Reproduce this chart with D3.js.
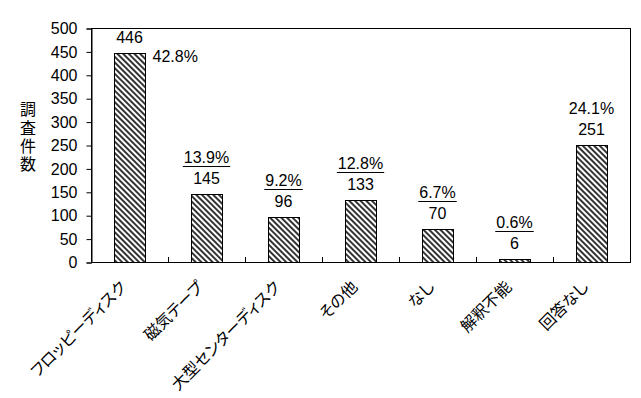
<!DOCTYPE html>
<html>
<head>
<meta charset="utf-8">
<script src="https://cdn.jsdelivr.net/npm/d3@7"></script>
<style>
	body { margin: 0; background: #fff; }
	text { font-family: "Liberation Sans", Arial, sans-serif; fill: #000; }
	.jp { font-family: "Noto Sans CJK JP", sans-serif; font-feature-settings: "palt"; }
</style>
</head>
<body>
<div id="chart"></div>
<script>
const categories = ["フロッピーディスク", "磁気テープ", "大型センターディスク", "その他", "なし", "解釈不能", "回答なし"];
const counts = [446, 145, 96, 133, 70, 6, 251];
const percents = ["42.8%", "13.9%", "9.2%", "12.8%", "6.7%", "0.6%", "24.1%"];
const yTicks = [0, 50, 100, 150, 200, 250, 300, 350, 400, 450, 500];
const yTitle = "調査件数";

const width = 641;
const height = 398;
const margin = { top: 28, right: 11, bottom: 136, left: 91 };

const svg = d3
	.select("#chart")
	.append("svg")
	.attr("width", width)
	.attr("height", height);

// hatch fill
const pattern = svg
	.append("defs")
	.append("pattern")
	.attr("id", "hatch")
	.attr("patternUnits", "userSpaceOnUse")
	.attr("width", 4)
	.attr("height", 4)
	.attr("patternTransform", "rotate(-45)");
pattern.append("rect").attr("width", 4).attr("height", 4).attr("fill", "white");
pattern
	.append("line")
	.attr("x1", 1)
	.attr("y1", 0)
	.attr("x2", 1)
	.attr("y2", 4)
	.attr("stroke", "black")
	.attr("stroke-width", 1.6);

const xScale = d3
	.scaleBand()
	.domain(categories)
	.range([margin.left, width - margin.right])
	.padding(0);

const yScale = d3
	.scaleLinear()
	.domain([0, 500])
	.range([height - margin.bottom, margin.top]);

const bw = xScale.bandwidth();

// frame
svg
	.append("rect")
	.attr("x", margin.left + 0.5)
	.attr("y", margin.top + 0.5)
	.attr("width", width - margin.right - margin.left)
	.attr("height", height - margin.bottom - margin.top)
	.attr("fill", "none")
	.attr("stroke", "black");

// y axis
const yAxis = svg
	.append("g")
	.attr("transform", `translate(${margin.left + 0.5}, 0.5)`)
	.call(d3.axisLeft(yScale).tickValues(yTicks).tickSize(5).tickPadding(9));
yAxis.select(".domain").attr("stroke", "black");
yAxis.selectAll("text").attr("font-size", 16).attr("font-family", null);

// x axis ticks between categories, pointing inward
svg
	.append("g")
	.selectAll("line")
	.data(categories.slice(1))
	.enter()
	.append("line")
	.attr("x1", (d) => Math.round(xScale(d)) + 0.5)
	.attr("x2", (d) => Math.round(xScale(d)) + 0.5)
	.attr("y1", height - margin.bottom)
	.attr("y2", height - margin.bottom - 5)
	.attr("stroke", "black");

// bars
svg
	.selectAll(".bar")
	.data(counts)
	.enter()
	.append("rect")
	.attr("class", "bar")
	.attr("x", (d, i) => Math.round(xScale(categories[i]) + bw * 0.3) + 0.5)
	.attr("y", (d) => Math.round(yScale(d)) + 0.5)
	.attr("width", Math.round(bw * 0.4))
	.attr("height", (d) => Math.round(yScale(0)) - Math.round(yScale(d)))
	.attr("fill", "url(#hatch)")
	.attr("stroke", "black");

// count labels
svg
	.selectAll(".count")
	.data(counts)
	.enter()
	.append("text")
	.attr("class", "count")
	.attr("x", (d, i) => xScale(categories[i]) + bw / 2)
	.attr("y", (d) => yScale(d) - 10)
	.attr("text-anchor", "middle")
	.attr("font-size", 16)
	.text((d) => d);

// percent labels
percents.forEach(function (p, i) {
	const cx = xScale(categories[i]) + bw / 2;
	if (i === 0) {
		svg
			.append("text")
			.attr("x", cx + 23)
			.attr("y", yScale(counts[i]) + 9)
			.attr("font-size", 16)
			.text(p);
		return;
	}
	const t = svg
		.append("text")
		.attr("x", cx)
		.attr("y", yScale(counts[i]) - 31)
		.attr("text-anchor", "middle")
		.attr("font-size", 16)
		.text(p);
	if (i === percents.length - 1) return;
	const w = t.node().getComputedTextLength();
	svg
		.append("line")
		.attr("x1", cx - w / 2 - 1)
		.attr("x2", cx + w / 2 + 1)
		.attr("y1", Math.round(yScale(counts[i]) - 28) + 0.5)
		.attr("y2", Math.round(yScale(counts[i]) - 28) + 0.5)
		.attr("stroke", "black");
});

// category labels
svg
	.selectAll(".cat")
	.data(categories)
	.enter()
	.append("text")
	.attr("class", "cat jp")
	.attr("transform", (d) => `translate(${xScale(d) + bw / 2 - 2}, 288) rotate(-45)`)
	.attr("text-anchor", "end")
	.attr("font-size", 16)
	.text((d) => d);

// y title, vertical
svg
	.append("text")
	.attr("class", "jp")
	.attr("x", 28)
	.attr("y", 138)
	.attr("writing-mode", "vertical-rl")
	.attr("text-anchor", "middle")
	.attr("letter-spacing", 2.3)
	.attr("font-size", 16)
	.text(yTitle);
</script>
</body>
</html>
